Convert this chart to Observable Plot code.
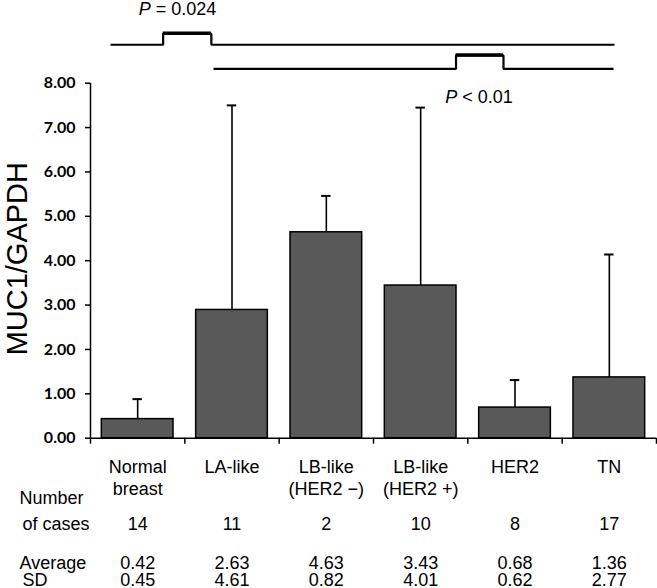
<!DOCTYPE html>
<html>
<head>
<meta charset="utf-8">
<script src="https://cdn.jsdelivr.net/npm/d3@7"></script>
<script src="https://cdn.jsdelivr.net/npm/@observablehq/plot@0.6"></script>
<style>
  html, body { margin: 0; padding: 0; background: #fff; }
  #chart svg { display: block; background: #fff; }
</style>
</head>
<body>
<div id="chart"></div>
<script>
// ---- data ----
const categories = ["Normal\nbreast", "LA-like", "LB-like\n(HER2 \u2212)", "LB-like\n(HER2 +)", "HER2", "TN"];
const barHeights = [0.43, 2.89, 4.64, 3.44, 0.69, 1.37];
const sdValues = [0.45, 4.61, 0.82, 4.01, 0.62, 2.77];
const caseCounts = ["14", "11", "2", "10", "8", "17"];
const averageLabels = ["0.42", "2.63", "4.63", "3.43", "0.68", "1.36"];
const sdLabels = ["0.45", "4.61", "0.82", "4.01", "0.62", "2.77"];
const yTicks = [0, 1, 2, 3, 4, 5, 6, 7, 8];
const yTitle = "MUC1/GAPDH";
// significance brackets (x in category units, y in MUC1/GAPDH units)
const bracket1X = [0.212, 0.770, 0.770, 1.281, 1.281, 5.555];
const bracket1Y = [8.866, 8.866, 9.114, 9.114, 8.866, 8.866];
const bracket2X = [1.304, 3.875, 3.875, 4.378, 4.378, 5.545];
const bracket2Y = [8.325, 8.325, 8.625, 8.625, 8.325, 8.325];
const pLabels = ["P = 0.024", "P < 0.01"];
const pLabelX = [0.922, 4.118];
const pLabelY = [9.657, 7.674];

// ---- derived tables ----
const rows = categories.map((c, i) => ({
  i, cat: c, h: barHeights[i], top: barHeights[i] + sdValues[i],
  n: caseCounts[i], avg: averageLabels[i], sd: sdLabels[i]
}));
const b1 = bracket1X.map((x, k) => ({x, y: bracket1Y[k]}));
const b2 = bracket2X.map((x, k) => ({x, y: bracket2Y[k]}));
const stepTops = [
  {x1: bracket1X[2], x2: bracket1X[3], y: bracket1Y[2]},
  {x1: bracket2X[2], x2: bracket2X[3], y: bracket2Y[2]}
];
const pData = pLabels.map((t, k) => ({t, x: pLabelX[k], y: pLabelY[k]}));
const boundaries = d3.range(categories.length + 1);

const SANS = "'Liberation Sans', Arial, sans-serif";
const W = 0.38; // half bar width in category units
const CAP = 0.05;

const chart = Plot.plot({
  width: 657,
  height: 588,
  marginLeft: 90,
  marginRight: 1,
  marginTop: 82.7,
  marginBottom: 150.3,
  style: {fontFamily: SANS, color: "black", background: "white"},
  x: {type: "linear", domain: [0, categories.length], axis: null},
  y: {domain: [0, 8], axis: null},
  marks: [
    // y axis
    Plot.axisY({
      ticks: yTicks, tickFormat: d => d.toFixed(2), tickSize: 5, tickPadding: 10,
      fontSize: 16, fontWeight: "bold", fontFamily: "Lato, 'DejaVu Sans', sans-serif",
      strokeWidth: 1.5, label: null
    }),
    Plot.axisX({
      ticks: boundaries, tickFormat: () => "", tickSize: 6, strokeWidth: 1.5, label: null
    }),
    // bars
    Plot.rect(rows, {
      x1: d => d.i + 0.5 - W, x2: d => d.i + 0.5 + W, y1: () => 0, y2: d => d.h,
      fill: "#595959", stroke: "black", strokeWidth: 1.5
    }),
    // error bars
    Plot.ruleX(rows, {x: d => d.i + 0.5, y1: d => d.h, y2: d => d.top, stroke: "black", strokeWidth: 1.6}),
    Plot.ruleY(rows, {y: d => d.top, x1: d => d.i + 0.5 - CAP, x2: d => d.i + 0.5 + CAP, stroke: "black", strokeWidth: 2}),
    // axis lines
    Plot.ruleX([0], {y1: 0, y2: 8, stroke: "black", strokeWidth: 1.5}),
    Plot.ruleY([0], {x1: 0, x2: categories.length, stroke: "black", strokeWidth: 1.5}),
    // brackets
    Plot.line(b1, {x: "x", y: "y", stroke: "black", strokeWidth: 2.2, strokeLinejoin: "miter", strokeLinecap: "butt"}),
    Plot.line(b2, {x: "x", y: "y", stroke: "black", strokeWidth: 2.2, strokeLinejoin: "miter", strokeLinecap: "butt"}),
    Plot.ruleY(stepTops, {y: "y", x1: "x1", x2: "x2", stroke: "black", strokeWidth: 3.4, dy: -0.5}),
    Plot.text(pData, {x: "x", y: "y", text: "t", fontSize: 18, lineAnchor: "middle", fill: "black", className: "pval"}),
    // y title
    Plot.text([yTitle], {frameAnchor: "left", textAnchor: "middle", lineAnchor: "middle", rotate: -90, dx: -73, dy: -2, fontSize: 29, fill: "black"}),
    // category labels
    Plot.text(rows, {x: d => d.i + 0.5, frameAnchor: "bottom", text: "cat", lineAnchor: "top", dy: 19, lineHeight: 1.22, fontSize: 18, fill: "black"}),
    // table rows
    Plot.text(["Number"], {frameAnchor: "bottom-left", textAnchor: "start", lineAnchor: "top", dx: -71, dy: 53.5, fontSize: 18, fill: "black"}),
    Plot.text(["of cases"], {frameAnchor: "bottom-left", textAnchor: "start", lineAnchor: "top", dx: -68, dy: 79.5, fontSize: 18, fill: "black"}),
    Plot.text(["Average"], {frameAnchor: "bottom-left", textAnchor: "start", lineAnchor: "top", dx: -71, dy: 117.8, fontSize: 18, fill: "black"}),
    Plot.text(["SD"], {frameAnchor: "bottom-left", textAnchor: "start", lineAnchor: "top", dx: -68, dy: 134.8, fontSize: 18, fill: "black"}),
    Plot.text(rows, {x: d => d.i + 0.5, frameAnchor: "bottom", text: "n", lineAnchor: "top", dy: 79.5, fontSize: 18, fill: "black"}),
    Plot.text(rows, {x: d => d.i + 0.5, frameAnchor: "bottom", text: "avg", lineAnchor: "top", dy: 117.8, fontSize: 18, fill: "black"}),
    Plot.text(rows, {x: d => d.i + 0.5, frameAnchor: "bottom", text: "sd", lineAnchor: "top", dy: 134.8, fontSize: 18, fill: "black"})
  ]
});

// italicise the leading "P" of the p-value labels
chart.querySelectorAll(".pval text").forEach(t => {
  const s = t.textContent;
  if (s.startsWith("P")) {
    t.textContent = "";
    const ts = document.createElementNS("http://www.w3.org/2000/svg", "tspan");
    ts.setAttribute("font-style", "italic");
    ts.textContent = "P";
    t.appendChild(ts);
    t.appendChild(document.createTextNode(s.slice(1)));
  }
});

document.getElementById("chart").appendChild(chart);
</script>
</body>
</html>
